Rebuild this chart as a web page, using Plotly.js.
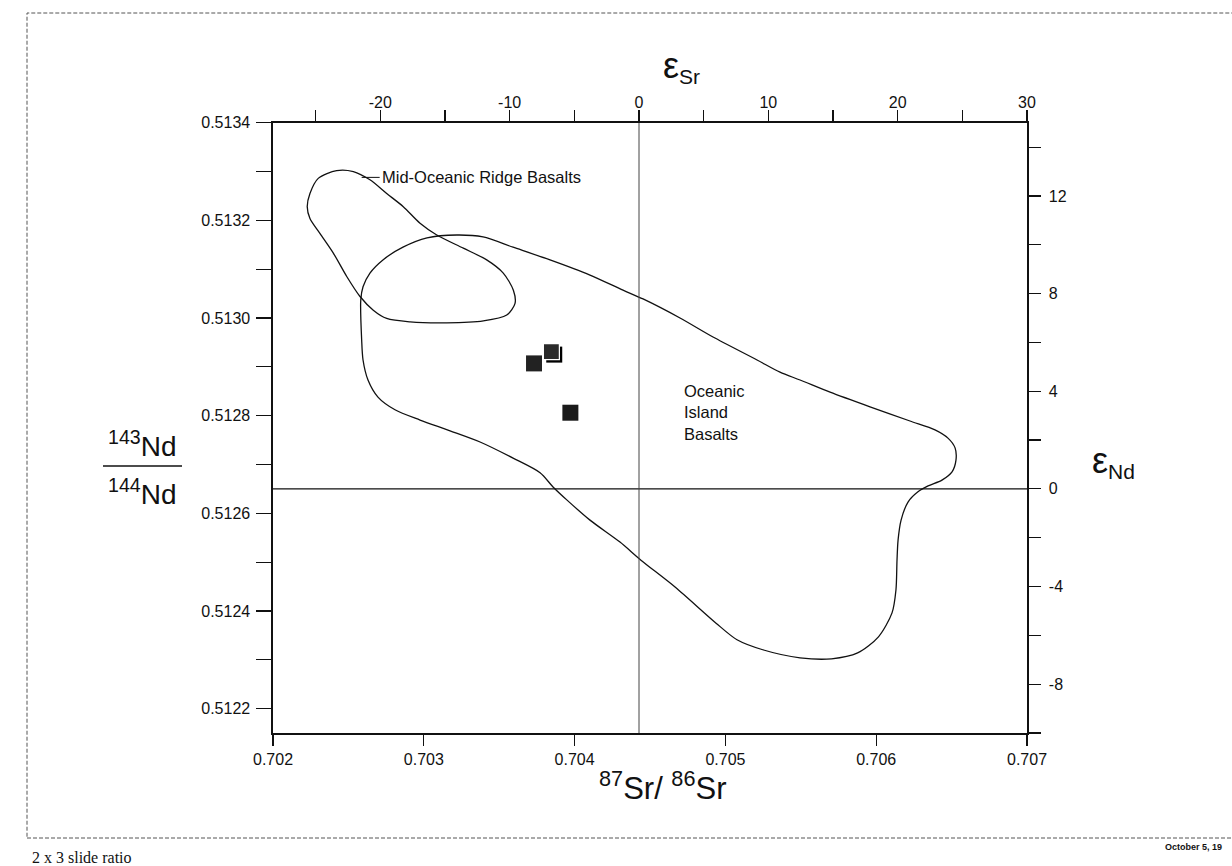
<!DOCTYPE html>
<html>
<head>
<meta charset="utf-8">
<script src="https://cdn.plot.ly/plotly-3.0.1.min.js"></script>
<style>
html,body{margin:0;padding:0;background:#fff;}
#chart{width:1232px;height:866px;}
</style>
</head>
<body>
<div id="chart"></div>
<script>
// ---- Data ----
// Mid-Oceanic Ridge Basalts field outline (87Sr/86Sr, 143Nd/144Nd)
const morbSr = [0.703152, 0.703395, 0.703550, 0.703605, 0.703594, 0.703527, 0.703417, 0.703262, 0.703086, 0.702975, 0.702864, 0.702754, 0.702643, 0.702533, 0.702422, 0.702300, 0.702245, 0.702227, 0.702245, 0.702312, 0.702400, 0.702489, 0.702577, 0.702665, 0.702754, 0.702909, 0.703152];
const morbNd = [0.512990, 0.512994, 0.513006, 0.513030, 0.513057, 0.513092, 0.513119, 0.513143, 0.513170, 0.513194, 0.513228, 0.513255, 0.513283, 0.513300, 0.513302, 0.513286, 0.513255, 0.513228, 0.513204, 0.513173, 0.513133, 0.513085, 0.513044, 0.513016, 0.512999, 0.512992, 0.512990];

// Oceanic Island Basalts field outline
const oibSr = [0.703220, 0.703393, 0.703592, 0.703837, 0.704102, 0.704321, 0.704454, 0.704699, 0.704918, 0.705210, 0.705362, 0.705495, 0.705694, 0.705959, 0.706224, 0.706390, 0.706476, 0.706523, 0.706529, 0.706503, 0.706436, 0.706344, 0.706277, 0.706211, 0.706165, 0.706145, 0.706138, 0.706131, 0.706105, 0.706015, 0.705877, 0.705704, 0.705495, 0.705253, 0.705077, 0.704938, 0.704666, 0.704440, 0.704301, 0.704102, 0.703950, 0.703857, 0.703771, 0.703592, 0.703373, 0.703174, 0.702975, 0.702809, 0.702696, 0.702630, 0.702597, 0.702588, 0.702582, 0.702597, 0.702643, 0.702729, 0.702862, 0.703021, 0.703220];
const oibNd = [0.513170, 0.513166, 0.513145, 0.513119, 0.513088, 0.513057, 0.513039, 0.513000, 0.512961, 0.512914, 0.512889, 0.512873, 0.512848, 0.512818, 0.512789, 0.512771, 0.512754, 0.512734, 0.512709, 0.512685, 0.512668, 0.512656, 0.512644, 0.512623, 0.512586, 0.512545, 0.512504, 0.512443, 0.512396, 0.512347, 0.512314, 0.512302, 0.512304, 0.512320, 0.512341, 0.512375, 0.512449, 0.512504, 0.512541, 0.512586, 0.512627, 0.512654, 0.512683, 0.512713, 0.512746, 0.512769, 0.512791, 0.512812, 0.512838, 0.512873, 0.512914, 0.512955, 0.513037, 0.513064, 0.513092, 0.513119, 0.513145, 0.513164, 0.513170];

// Sample points (filled squares)
const sampleSr = [0.703731, 0.703865, 0.703846, 0.703972];
const sampleNd = [0.512907, 0.512925, 0.512931, 0.512806];

// Reference lines: epsilon Sr = 0 and epsilon Nd = 0
const epsSrZero = [0, 0];
const epsNdZero = [0, 0];

// Axis ranges and ticks
const srRange = [0.702, 0.707];
const ndRange = [0.51215, 0.5134];
const epsSrRange = [-28.3, 30];
const epsNdRange = [-10, 15];

const srTicks = [0.702, 0.703, 0.704, 0.705, 0.706, 0.707];
const srTickText = ['0.702', '0.703', '0.704', '0.705', '0.706', '0.707'];
const ndTicks = [0.5122, 0.5124, 0.5126, 0.5128, 0.5130, 0.5132, 0.5134];
const ndTickText = ['0.5122', '0.5124', '0.5126', '0.5128', '0.5130', '0.5132', '0.5134'];
const ndMinorTicks = [0.5123, 0.5125, 0.5127, 0.5129, 0.5131, 0.5133];
const epsSrTicks = [-20, -10, 0, 10, 20, 30];
const epsSrTickText = ['-20', '-10', '0', '10', '20', '30'];
const epsSrMinorTicks = [-25, -15, -5, 5, 15, 25];
const epsNdTicks = [-8, -4, 0, 4, 8, 12];
const epsNdTickText = ['-8', '-4', '0', '4', '8', '12'];
const epsNdMinorTicks = [-10, -6, -2, 2, 6, 10, 14];

// ---- Layout helpers ----
const W = 1232, H = 866;
const px = v => v / W;
const py = v => 1 - v / H;
const FONT = 'Liberation Sans, Arial, Helvetica, sans-serif';
const INK = '#111';

const traces = [
  { x: morbSr, y: morbNd, xaxis: 'x', yaxis: 'y', mode: 'lines',
    line: { color: INK, width: 1.3, shape: 'spline', smoothing: 0.8 }, hoverinfo: 'skip' },
  { x: oibSr, y: oibNd, xaxis: 'x', yaxis: 'y', mode: 'lines',
    line: { color: INK, width: 1.3, shape: 'spline', smoothing: 0.8 }, hoverinfo: 'skip' },
  { x: epsSrZero, y: ndRange, xaxis: 'x2', yaxis: 'y', mode: 'lines',
    line: { color: '#444', width: 1 }, hoverinfo: 'skip' },
  { x: srRange, y: epsNdZero, xaxis: 'x', yaxis: 'y2', mode: 'lines',
    line: { color: INK, width: 1.3 }, hoverinfo: 'skip' },
  { x: sampleSr, y: sampleNd, xaxis: 'x', yaxis: 'y', mode: 'markers',
    marker: { symbol: 'square', size: 16, color: ['#222', '#000', '#2a2a2a', '#1a1a1a'],
      line: { color: ['#222', '#000', '#ffffff', '#1a1a1a'], width: [0, 0, 1.2, 0] } },
    hoverinfo: 'skip' }
];

const tickFont = { family: FONT, size: 16, color: INK };

const layout = {
  width: W, height: H, autosize: false,
  margin: { l: 0, r: 0, t: 0, b: 0 },
  paper_bgcolor: '#fff', plot_bgcolor: '#fff',
  showlegend: false,
  font: { family: FONT, color: INK },
  xaxis: {
    domain: [px(273), px(1027)], range: srRange, anchor: 'y',
    tickmode: 'array', tickvals: srTicks, ticktext: srTickText,
    ticks: 'outside', ticklen: 11, tickwidth: 1.2, tickcolor: INK,
    showline: true, linecolor: INK, linewidth: 1.6,
    showgrid: false, zeroline: false, tickfont: tickFont, ticklabelstandoff: 0
  },
  xaxis2: {
    overlaying: 'x', side: 'top', anchor: 'y', range: epsSrRange,
    tickmode: 'array', tickvals: epsSrTicks, ticktext: epsSrTickText,
    ticks: 'outside', ticklen: 11, tickwidth: 1.2, tickcolor: INK,
    minor: { tickmode: 'array', tickvals: epsSrMinorTicks, ticks: 'outside', ticklen: 11, tickwidth: 1.2, tickcolor: INK, showgrid: false },
    showline: true, linecolor: INK, linewidth: 1.6,
    showgrid: false, zeroline: false, tickfont: tickFont, ticklabelstandoff: -4
  },
  yaxis: {
    domain: [1 - 733 / H, 1 - 122.7 / H], range: ndRange, anchor: 'x',
    tickmode: 'array', tickvals: ndTicks, ticktext: ndTickText,
    ticks: 'outside', ticklen: 15, tickwidth: 1.2, tickcolor: INK,
    minor: { tickmode: 'array', tickvals: ndMinorTicks, ticks: 'outside', ticklen: 15, tickwidth: 1.2, tickcolor: INK, showgrid: false },
    showline: true, linecolor: INK, linewidth: 1.6,
    showgrid: false, zeroline: false, tickfont: tickFont, ticklabelstandoff: 3
  },
  yaxis2: {
    overlaying: 'y', side: 'right', anchor: 'x', range: epsNdRange,
    tickmode: 'array', tickvals: epsNdTicks, ticktext: epsNdTickText,
    ticks: 'outside', ticklen: 12, tickwidth: 1.2, tickcolor: INK,
    minor: { tickmode: 'array', tickvals: epsNdMinorTicks, ticks: 'outside', ticklen: 12, tickwidth: 1.2, tickcolor: INK, showgrid: false },
    showline: true, linecolor: INK, linewidth: 1.6,
    showgrid: false, zeroline: false, tickfont: tickFont, ticklabelstandoff: 5
  },
  shapes: [
    { type: 'rect', xref: 'paper', yref: 'paper', x0: px(27), x1: 1.02, y0: py(838), y1: py(13),
      line: { color: '#555', width: 1, dash: '4px,2px' }, fillcolor: 'rgba(0,0,0,0)' },
    { type: 'line', xref: 'paper', yref: 'paper', x0: px(103), x1: px(182), y0: py(466), y1: py(466),
      line: { color: INK, width: 1.3 } }
  ],
  annotations: [
    { xref: 'x', yref: 'y', x: 0.702588, y: 0.513288, text: 'Mid-Oceanic Ridge Basalts',
      showarrow: true, arrowhead: 0, arrowwidth: 1, arrowcolor: INK, ax: 18, ay: 0,
      xanchor: 'left', yanchor: 'middle', font: { family: FONT, size: 16.5, color: INK } },
    { xref: 'x', yref: 'y', x: 0.704710, y: 0.512806, text: 'Oceanic<br>Island<br>Basalts',
      showarrow: false, xanchor: 'left', yanchor: 'middle', align: 'left',
      font: { family: FONT, size: 16.5, color: INK } },
    { xref: 'paper', yref: 'paper', x: px(681), y: py(67), text: '<span style="font-size:36px">ε</span><sub>Sr</sub>',
      showarrow: false, xanchor: 'center', yanchor: 'middle', font: { family: FONT, size: 30, color: INK } },
    { xref: 'paper', yref: 'paper', x: px(1113), y: py(461), text: '<span style="font-size:36px">ε</span><sub>Nd</sub>',
      showarrow: false, xanchor: 'center', yanchor: 'middle', font: { family: FONT, size: 30, color: INK } },
    { xref: 'paper', yref: 'paper', x: px(662), y: py(786), text: '<sup>87</sup>Sr/ <sup>86</sup>Sr',
      showarrow: false, xanchor: 'center', yanchor: 'middle', font: { family: FONT, size: 31, color: INK } },
    { xref: 'paper', yref: 'paper', x: px(142), y: py(444), text: '<sup>143</sup>Nd',
      showarrow: false, xanchor: 'center', yanchor: 'middle', font: { family: FONT, size: 28, color: INK } },
    { xref: 'paper', yref: 'paper', x: px(142), y: py(492), text: '<sup>144</sup>Nd',
      showarrow: false, xanchor: 'center', yanchor: 'middle', font: { family: FONT, size: 28, color: INK } },
    { xref: 'paper', yref: 'paper', x: px(30), y: py(857), text: '2 x 3 slide ratio',
      showarrow: false, xanchor: 'left', yanchor: 'middle',
      font: { family: 'Liberation Serif, Times New Roman, serif', size: 16, color: INK } },
    { xref: 'paper', yref: 'paper', x: px(1163), y: py(847), text: '<b>October 5, 19</b>',
      showarrow: false, xanchor: 'left', yanchor: 'middle', font: { family: FONT, size: 9, color: INK } }
  ]
};

Plotly.newPlot('chart', traces, layout, { staticPlot: true, displayModeBar: false });
</script>
</body>
</html>
